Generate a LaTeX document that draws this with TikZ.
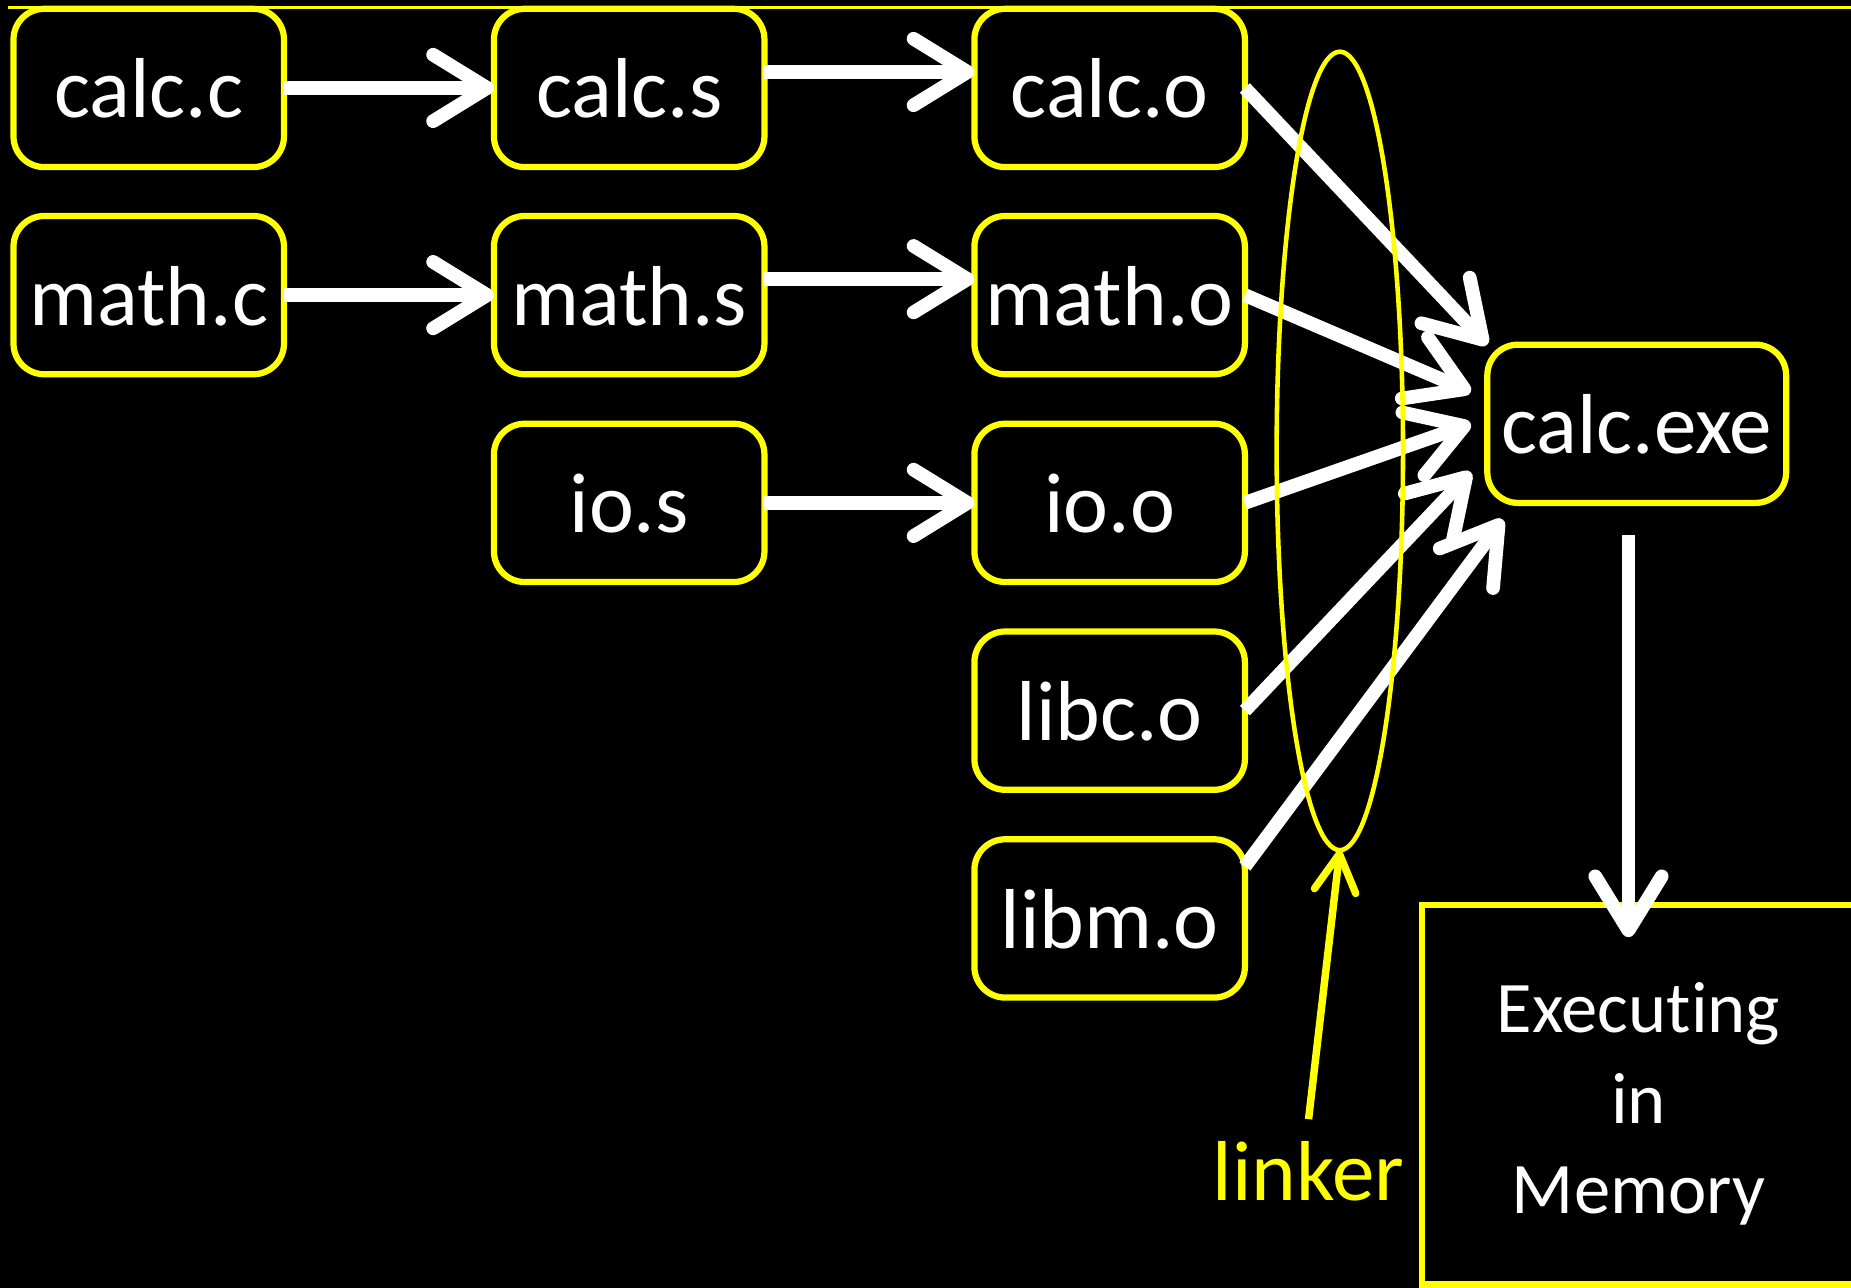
\documentclass[tikz,border=0pt]{standalone}
\usepackage{fontspec}
\setmainfont{Carlito}[Ligatures=NoCommon]
\usetikzlibrary{arrows.meta,shapes.geometric}
\definecolor{boxc}{HTML}{FFFF00}
\definecolor{flowc}{HTML}{FFFFFF}

\begin{document}
\begin{tikzpicture}[x=0.01cm,y=-0.01cm,
  file/.style={draw=boxc,line width=1.5pt,rounded corners=0.26cm,minimum width=2.29cm,minimum height=1.34cm,
    inner sep=0pt,outer sep=0pt,text=flowc,font=\fontsize{20.5}{24}\selectfont,text height=19.5pt,text depth=5.1pt},
  flow/.style={draw=flowc,line width=3.3pt,-{Straight Barb[length=13pt,width=16pt,round]}},
  hint/.style={draw=boxc,line width=1.8pt,-{Straight Barb[length=9pt,width=10pt,round]}}]
\useasboundingbox (0,0) rectangle (1568,1091);
\fill[black] (0,0) rectangle (1568,1091);
\draw[boxc,line width=0.6pt] (7,6.5) -- (1568,6.5);
% source, assembly and object files
\node[file] (calcc) at (126,74.5) {calc.c};
\node[file] (calcs) at (533,74.5) {calc.s};
\node[file] (calco) at (940,74.5) {calc.o};
\node[file] (mathc) at (126,250) {math.c};
\node[file] (maths) at (533,250) {math.s};
\node[file] (matho) at (940,250) {math.o};
\node[file] (ios) at (533,426) {io.s};
\node[file] (ioo) at (940,426) {io.o};
\node[file] (libco) at (940,602) {libc.o};
\node[file] (libmo) at (940,778) {libm.o};
\node[file,minimum width=2.53cm] (calcexe) at (1386.5,359) {calc.exe};
\node[draw=boxc,line width=1.5pt,minimum width=3.66cm,minimum height=3.21cm,inner sep=0pt,outer sep=0pt,
  text=flowc,align=center,font=\fontsize{17.5}{21.8}\selectfont] (memory) at (1388,927.5) {\rule{0pt}{16.5pt}Executing\\in\\Memory};
% compile and assemble
\draw[flow] (calcc) -- (calcs);
\draw[flow] (mathc) -- (maths);
\draw[flow] ([shift={(0,-13.5)}]calcs.east) -- ([shift={(0,-13.5)}]calco.west);
\draw[flow] ([shift={(0,-13.5)}]maths.east) -- ([shift={(0,-13.5)}]matho.west);
\draw[flow] (ios) -- (ioo);
% link
\draw[flow] (calco.east) -- (calcexe.north west);
\draw[flow] (matho.east) -- ([shift={(-14,-27)}]calcexe.west);
\draw[flow] (ioo.east) -- ([shift={(-14,0)}]calcexe.west);
\draw[flow] (libco.east) -- ([shift={(-14,41)}]calcexe.west);
\draw[flow] ([shift={(0,-44)}]libmo.east) -- ([shift={(13,14)}]calcexe.south west);
% load
\draw[flow] ([shift={(-7,27)}]calcexe.south) -- ([shift={(-7,27)}]calcexe.south |- memory.north);
\node[ellipse,draw=boxc,line width=1.1pt,minimum width=1.07cm,minimum height=6.76cm,inner sep=0pt,outer sep=0pt] (linkring) at (1135,382) {};
\node[text=boxc,inner sep=0pt,font=\fontsize{20.5}{24}\selectfont,text height=19.5pt,text depth=5.1pt] (linker) at (1108.5,992) {linker};
\draw[hint] (linker.north) -- (linkring.south);
\end{tikzpicture}
\end{document}
